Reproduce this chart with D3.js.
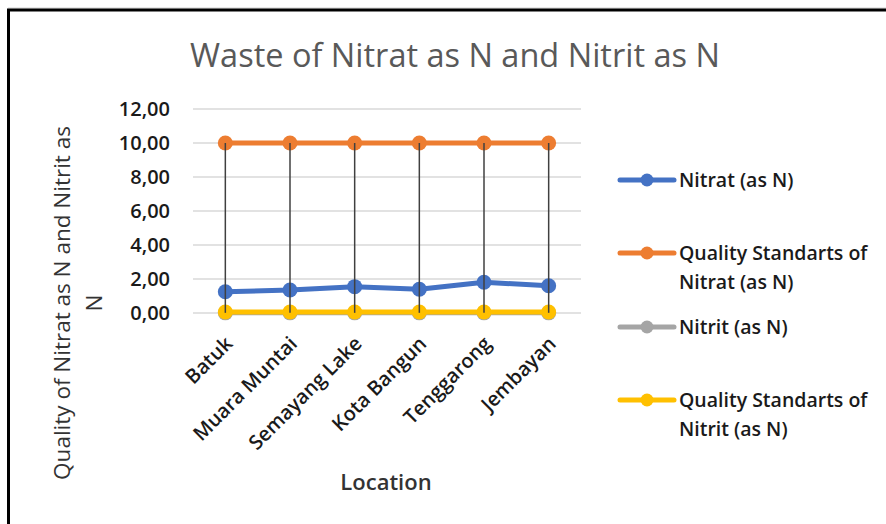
<!DOCTYPE html>
<html>
<head>
<meta charset="utf-8">
<script src="https://d3js.org/d3.v7.min.js"></script>
<style>
  body { margin: 0; background: #fff; }
  text { font-family: "Open Sans", sans-serif; }
</style>
</head>
<body>
<svg width="886" height="524"></svg>
<script>
// data
var locations = ["Batuk", "Muara Muntai", "Semayang Lake", "Kota Bangun", "Tenggarong", "Jembayan"];
var nitrat = [1.25, 1.35, 1.55, 1.40, 1.81, 1.60];
var stdNitrat = [10, 10, 10, 10, 10, 10];
var nitrit = [0.01, 0.01, 0.01, 0.01, 0.01, 0.01];
var stdNitrit = [0.06, 0.06, 0.06, 0.06, 0.06, 0.06];
var seriesNames = ["Nitrat (as N)", "Quality Standarts of Nitrat (as N)", "Nitrit (as N)", "Quality Standarts of Nitrit (as N)"];
var seriesColors = ["#4472c4", "#ed7d31", "#a5a5a5", "#ffc000"];
var yTicks = [0, 2, 4, 6, 8, 10, 12];

var allSeries = [nitrat, stdNitrat, nitrit, stdNitrit];

var svg = d3.select("svg");

// outer frame
svg.append("line").attr("x1", 8).attr("x2", 886).attr("y1", 8).attr("y2", 8)
    .attr("stroke", "#d0d0d0").attr("stroke-width", 1);
svg.append("rect").attr("x", 8.5).attr("y", 10).attr("width", 900).attr("height", 600)
    .attr("fill", "none").attr("stroke", "#000").attr("stroke-width", 3);

var x = d3.scalePoint().domain(locations).range([193, 581]).padding(0.5);
var y = d3.scaleLinear().domain([0, 12]).range([313, 109]);

// gridlines
svg.append("g").selectAll("line").data(yTicks).enter().append("line")
    .attr("x1", 193).attr("x2", 581)
    .attr("y1", function(d) { return y(d); })
    .attr("y2", function(d) { return y(d); })
    .attr("stroke", "#d9d9d9").attr("stroke-width", 1.5);

// y axis labels
var yAxis = d3.axisLeft(y).tickValues(yTicks).tickSize(0).tickPadding(0)
    .tickFormat(function(d) { return d3.format(".2f")(d).replace(".", ","); });
var gy = svg.append("g").attr("transform", "translate(170,0)").call(yAxis);
gy.select(".domain").remove();
gy.selectAll("text").attr("font-size", 20).attr("fill", "#1a1a1a")
    .attr("font-family", "Open Sans").attr("font-weight", 600);

// x axis labels
var xAxis = d3.axisBottom(x).tickSize(0).tickPadding(0);
var gx = svg.append("g").attr("transform", "translate(0,313)").call(xAxis);
gx.select(".domain").remove();
gx.selectAll("text")
    .attr("font-size", 20).attr("fill", "#1a1a1a").attr("font-family", "Open Sans")
    .attr("font-weight", 600)
    .attr("text-anchor", "end")
    .attr("transform", "translate(3,27) rotate(-45)")
    .attr("dy", "0.35em");

// lines and markers
var line = d3.line()
    .x(function(d, i) { return x(locations[i]); })
    .y(function(d) { return y(d); });

allSeries.forEach(function(s, k) {
    svg.append("path").datum(s).attr("d", line)
        .attr("fill", "none").attr("stroke", seriesColors[k]).attr("stroke-width", 5)
        .attr("stroke-linejoin", "round");
    svg.append("g").selectAll("circle").data(s).enter().append("circle")
        .attr("cx", function(d, i) { return x(locations[i]); })
        .attr("cy", function(d) { return y(d); })
        .attr("r", 7.5)
        .attr("fill", seriesColors[k]);
});

// high-low lines
svg.append("g").selectAll("line").data(locations).enter().append("line")
    .attr("x1", function(d) { return x(d); })
    .attr("x2", function(d) { return x(d); })
    .attr("y1", function(d, i) { return y(d3.max(allSeries, function(s) { return s[i]; })); })
    .attr("y2", function(d, i) { return y(d3.min(allSeries, function(s) { return s[i]; })); })
    .attr("stroke", "#404040").attr("stroke-width", 1.5);

// title
svg.append("text").attr("x", 455).attr("y", 67).attr("text-anchor", "middle")
    .attr("font-size", 32.5).attr("fill", "#595959").text("Waste of Nitrat as N and Nitrit as N");

// axis titles
svg.append("text").attr("x", 386).attr("y", 490).attr("text-anchor", "middle")
    .attr("font-size", 22).attr("font-weight", 600).attr("fill", "#333").text("Location");

var yt = svg.append("text").attr("transform", "translate(70,303) rotate(-90)")
    .attr("text-anchor", "middle").attr("font-size", 22.5).attr("fill", "#333");
yt.append("tspan").attr("x", 0).attr("y", 0).text("Quality of Nitrat as N and Nitrit as");
yt.append("tspan").attr("x", 0).attr("y", 32).text("N");

// legend
var legendRows = [
    { lines: ["Nitrat (as N)"], y: 180 },
    { lines: ["Quality Standarts of", "Nitrat (as N)"], y: 253 },
    { lines: ["Nitrit (as N)"], y: 327 },
    { lines: ["Quality Standarts of", "Nitrit (as N)"], y: 400 }
];
var lg = svg.append("g");
legendRows.forEach(function(r, k) {
    lg.append("line").attr("x1", 620).attr("x2", 674).attr("y1", r.y).attr("y2", r.y)
        .attr("stroke", seriesColors[k]).attr("stroke-width", 5).attr("stroke-linecap", "round");
    lg.append("circle").attr("cx", 647).attr("cy", r.y).attr("r", 6.5).attr("fill", seriesColors[k]);
    r.lines.forEach(function(t, j) {
        lg.append("text").attr("x", 679).attr("y", r.y + j * 29).attr("dy", "0.35em")
            .attr("font-size", 19.5).attr("font-weight", 600).attr("fill", "#1a1a1a").text(t);
    });
});
</script>
</body>
</html>
